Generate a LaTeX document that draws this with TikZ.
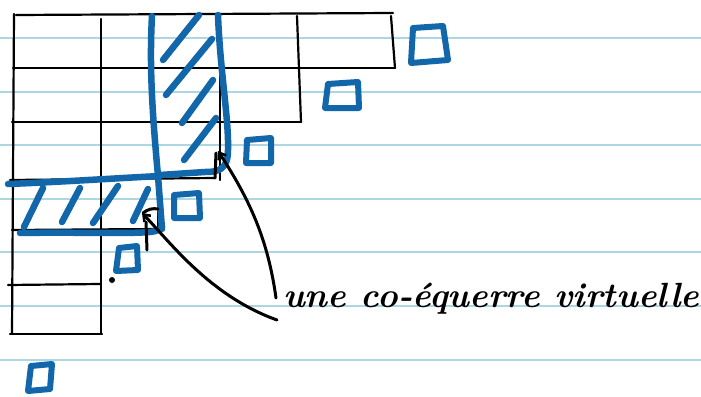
\documentclass[tikz,border=0pt]{standalone}
\usetikzlibrary{arrows.meta}
\definecolor{inkblue}{RGB}{18,102,170}
\definecolor{ruled}{RGB}{172,214,226}
\begin{document}
\begin{tikzpicture}[x=1pt,y=-1pt,
  ruleline/.style={ruled,line width=1.3pt},
  gridline/.style={black,line width=2.2pt,line cap=round},
  bluestroke/.style={inkblue,line width=6.5pt,line cap=round,line join=round},
  bluebox/.style={inkblue,line width=6pt,line join=round},
  pointer/.style={black,line width=3pt,line cap=round,-{Straight Barb[length=6pt,width=9pt,line width=2.6pt]}},
  tick/.style={black,line width=3pt,line cap=round}]
\useasboundingbox (0,0) rectangle (701,396);
\fill[white] (0,0) rectangle (701,396);
% ruled paper
\foreach \y in {38,92,145,199,252,306,360}
  \draw[ruleline] (0,\y) -- (701,\y);
% Young diagram grid
\draw[gridline] (16,15) -- (393,13);
\draw[gridline] (13,68) -- (395,68);
\draw[gridline] (12,122) -- (301,122);
\draw[gridline] (10,180) -- (215,178);
\draw[gridline] (12,230) -- (160,229);
\draw[gridline] (8,285) -- (100,284);
\draw[gridline] (10,334) -- (102,334);
\draw[gridline] (14,14) -- (12,334);
\draw[gridline] (101,19) -- (101,334);
\draw[gridline] (220,15) -- (220,180);
\draw[gridline] (297,16) -- (301,122);
\draw[gridline] (391,16) -- (395,68);
\draw[gridline] (158,180) -- (158,230);
% blue vertical strip
\draw[bluestroke] (152,16) .. controls (149,70) and (153,120) .. (158,176) -- (162,229);
\draw[bluestroke] (218,15) .. controls (220,70) and (229,120) .. (228,150)
   .. controls (228,170) and (218,172) .. (205,172) -- (160,175);
\draw[bluestroke] (8,184) .. controls (60,182) and (120,178) .. (160,176);
\draw[bluestroke] (20,233) .. controls (70,232) and (130,234) .. (150,232) .. controls (158,231) and (162,229) .. (162,226);
% hatches
\draw[bluestroke] (163,60) -- (199,15);
\draw[bluestroke] (166,95) -- (212,39);
\draw[bluestroke] (182,123) -- (213,80);
\draw[bluestroke] (184,160) -- (216,118);
\draw[bluestroke] (24,227) -- (43,188);
\draw[bluestroke] (62,222) -- (80,188);
\draw[bluestroke] (93,223) -- (118,186);
\draw[bluestroke] (133,221) -- (148,189);
% small blue boxes
\draw[bluebox] (411,63) -- (413,28) -- (443,26) -- (448,60) -- cycle;
\draw[bluebox] (325,108) -- (328,84) -- (358,82) -- (359,108) -- cycle;
\draw[bluebox] (246,163) -- (247,140) -- (271,138) -- (271,163) -- cycle;
\draw[bluebox] (174,218) -- (174,195) -- (199,193) -- (200,218) -- cycle;
\draw[bluebox] (116,271) -- (119,248) -- (137,246) -- (138,270) -- cycle;
\draw[bluebox] (28,391) -- (31,366) -- (52,364) -- (50,389) -- cycle;
\fill[black] (112,280) circle (3pt);
% label and pointers
\node[anchor=base west,inner sep=0pt,font=\fontsize{35}{35}\selectfont\bfseries\itshape] (label) at (283,307) {une co-équerre virtuelle};
\coordinate (tailA) at (276,298);
\coordinate (tailB) at (277,320);
\coordinate (tipA) at (218,151);
\coordinate (tipB) at (142,213);
\draw[pointer] (tailA) .. controls (268,240) and (250,200) .. (tipA);
\draw[pointer] (tailB) .. controls (210,296) and (170,242) .. (tipB);
\draw[tick] (216,153) -- (215,178);
\draw[tick] (146,222) -- (147,250);
\draw[tick] (143,213) .. controls (148,209) and (153,208) .. (158,209);
\end{tikzpicture}
\end{document}
